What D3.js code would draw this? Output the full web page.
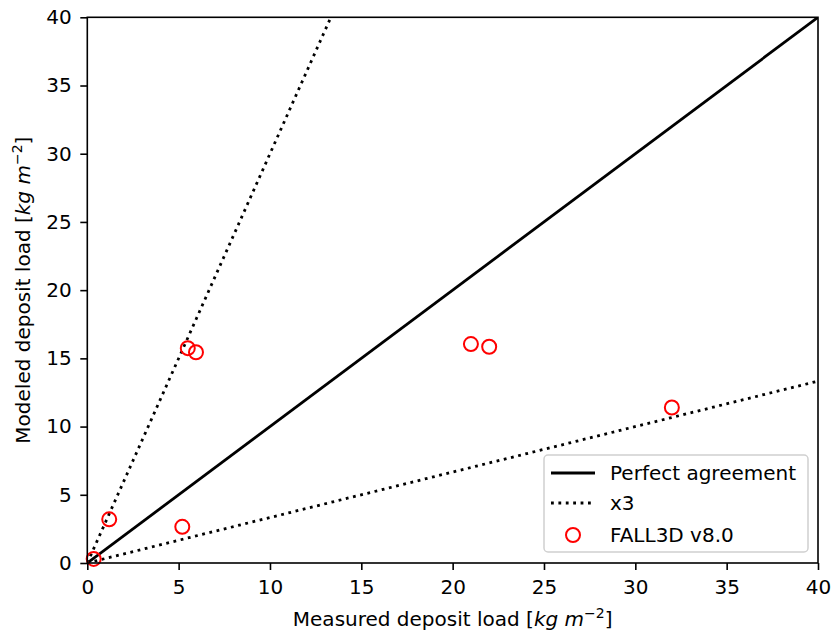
<!DOCTYPE html>
<html><head><meta charset="utf-8">
<script src="https://cdn.jsdelivr.net/npm/d3@7"></script>
<style>body{margin:0;background:#fff}svg{font-family:"DejaVu Sans",sans-serif}</style>
</head><body>
<svg id="c" width="834" height="630"></svg>
<script>
const measured = [0.35, 1.2, 5.2, 5.5, 5.95, 21.0, 22.0, 32.0];
const modeled  = [0.3, 3.2, 2.65, 15.75, 15.45, 16.05, 15.85, 11.4];
const xTicks = [0,5,10,15,20,25,30,35,40];
const yTicks = [0,5,10,15,20,25,30,35,40];
const legendLabels = ["Perfect agreement","x3","FALL3D v8.0"];

const svg = d3.select("#c");
const L=87.3, R=818, T=17.3, B=563;
const x = d3.scaleLinear().domain([0,40]).range([L,R]);
const y = d3.scaleLinear().domain([0,40]).range([B,T]);
const FS = 20;
const LW = 2.8, DASH = "2.8,4.6";
const MR = 7;

svg.append("clipPath").attr("id","clip").append("rect").attr("x",L).attr("y",T).attr("width",R-L).attr("height",B-T);
const g = svg.append("g").attr("clip-path","url(#clip)");
const line = d3.line().x(d=>x(d[0])).y(d=>y(d[1]));
g.append("path").attr("d",line([[0,0],[40,40]])).attr("stroke","#000").attr("stroke-width",LW).attr("fill","none");
g.append("path").attr("d",line([[0,0],[40/3,40]])).attr("stroke","#000").attr("stroke-width",LW).attr("stroke-dasharray",DASH).attr("fill","none");
g.append("path").attr("d",line([[0,0],[40,40/3]])).attr("stroke","#000").attr("stroke-width",LW).attr("stroke-dasharray",DASH).attr("fill","none");

svg.append("g").selectAll("circle").data(measured.map((m,i)=>[m,modeled[i]])).join("circle")
  .attr("cx",d=>x(d[0])).attr("cy",d=>y(d[1])).attr("r",MR).attr("fill","none").attr("stroke","red").attr("stroke-width",2);

const xa = svg.append("g").attr("transform",`translate(0,${B})`).call(d3.axisBottom(x).tickValues(xTicks).tickFormat(d3.format("d")).tickSize(7).tickPadding(10));
const ya = svg.append("g").attr("transform",`translate(${L},0)`).call(d3.axisLeft(y).tickValues(yTicks).tickFormat(d3.format("d")).tickSize(7).tickPadding(8.5));
[xa,ya].forEach(a=>{a.attr("font-size",FS).attr("font-family","DejaVu Sans");a.select(".domain").remove();a.selectAll("text").attr("fill","#000");a.selectAll("line").attr("stroke","#000").attr("stroke-width",1.6);});
svg.append("rect").attr("x",L).attr("y",T).attr("width",R-L).attr("height",B-T).attr("fill","none").attr("stroke","#000").attr("stroke-width",1.6);

// axis labels
const xl = svg.append("text").attr("x",(L+R)/2).attr("y",626).attr("text-anchor","middle").attr("font-size",FS);
xl.append("tspan").text("Measured deposit load [");
xl.append("tspan").attr("font-style","italic").text("kg m");
xl.append("tspan").attr("font-size",14).attr("dy",-8).text("−2");
xl.append("tspan").attr("dy",8).text("]");
const yl = svg.append("text").attr("transform",`translate(30,${(T+B)/2}) rotate(-90)`).attr("text-anchor","middle").attr("font-size",FS);
yl.append("tspan").text("Modeled deposit load [");
yl.append("tspan").attr("font-style","italic").text("kg m");
yl.append("tspan").attr("font-size",14).attr("dy",-8).text("−2");
yl.append("tspan").attr("dy",8).text("]");

// legend
const lg = svg.append("g");
lg.append("rect").attr("x",544).attr("y",455).attr("width",264).attr("height",97).attr("rx",4).attr("fill","#fff").attr("fill-opacity",0.8).attr("stroke","#d0d0d0").attr("stroke-width",1.5);
const rows=[473,503,535];
lg.append("line").attr("x1",551).attr("x2",595).attr("y1",rows[0]).attr("y2",rows[0]).attr("stroke","#000").attr("stroke-width",LW);
lg.append("line").attr("x1",551).attr("x2",595).attr("y1",rows[1]).attr("y2",rows[1]).attr("stroke","#000").attr("stroke-width",LW).attr("stroke-dasharray",DASH);
lg.append("circle").attr("cx",573).attr("cy",rows[2]).attr("r",MR).attr("fill","none").attr("stroke","red").attr("stroke-width",2);
legendLabels.forEach((t,i)=>lg.append("text").attr("x",610).attr("y",rows[i]).attr("dy","0.35em").attr("font-size",FS).text(t));
</script>
</body></html>
